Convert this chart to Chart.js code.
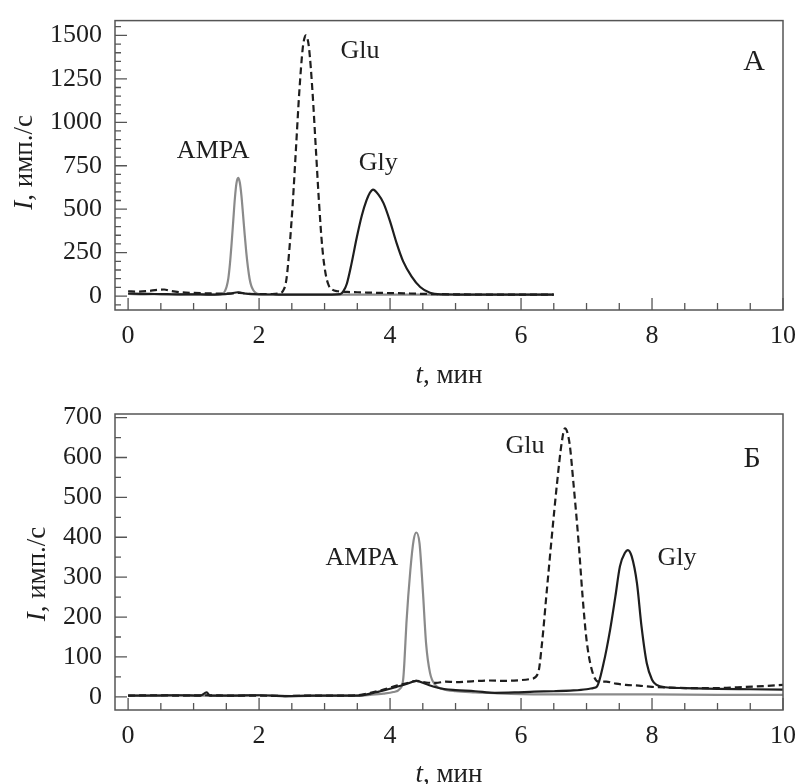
<!DOCTYPE html>
<html>
<head>
<meta charset="utf-8">
<script src="https://cdn.jsdelivr.net/npm/chart.js@4.4.0/dist/chart.umd.min.js"></script>
<style>
  html, body { margin: 0; padding: 0; background: #fff; }
  canvas { display: block; }
</style>
</head>
<body>
<canvas id="chartA" width="799" height="392"></canvas>
<canvas id="chartB" width="799" height="392"></canvas>
<script>
// ---- panel A: time (min) and intensity (counts/s) ----
const aAmpaT = [0, 0.25, 0.5, 0.75, 1.0, 1.25, 1.4, 1.45, 1.48, 1.505, 1.53, 1.555, 1.58, 1.605, 1.63, 1.655, 1.68, 1.705, 1.73, 1.755, 1.78, 1.805, 1.83, 1.855, 1.88, 1.91, 1.95, 2.0, 2.25, 2.5, 2.75, 3.0, 3.5, 4.0, 4.5, 5.0, 5.5, 6.0, 6.5];
const aAmpaI = [12, 10, 11, 9, 10, 9, 10, 14, 30, 55, 100, 185, 300, 430, 560, 650, 680, 655, 580, 470, 355, 250, 165, 100, 60, 35, 18, 11, 9, 8, 9, 8, 8, 9, 8, 8, 8, 9, 8];

const aGluT = [0, 0.15, 0.3, 0.45, 0.55, 0.65, 0.8, 1.0, 1.2, 1.4, 1.6, 1.7, 1.8, 2.0, 2.2, 2.3, 2.365, 2.415, 2.465, 2.515, 2.565, 2.615, 2.665, 2.69, 2.715, 2.74, 2.765, 2.815, 2.865, 2.915, 2.965, 3.015, 3.065, 3.115, 3.2, 3.35, 3.5, 3.7, 3.9, 4.1, 4.3, 4.6, 5.0, 5.5, 6.0, 6.5];
const aGluI = [28, 26, 29, 36, 38, 30, 22, 18, 16, 14, 15, 19, 14, 12, 12, 15, 30, 90, 280, 540, 860, 1180, 1420, 1480, 1500, 1480, 1420, 1180, 860, 540, 280, 130, 60, 38, 28, 24, 22, 20, 18, 17, 15, 12, 10, 9, 9, 8];

const aGlyT = [0, 0.2, 0.4, 0.6, 0.8, 1.0, 1.2, 1.4, 1.55, 1.68, 1.8, 2.0, 2.3, 2.6, 2.9, 3.1, 3.24, 3.29, 3.34, 3.41, 3.49, 3.57, 3.64, 3.69, 3.74, 3.82, 3.90, 4.0, 4.10, 4.20, 4.33, 4.46, 4.61, 4.81, 5.0, 5.5, 6.0, 6.5];
const aGlyI = [15, 13, 12, 11, 10, 10, 9, 10, 14, 22, 14, 10, 9, 8, 8, 9, 11, 30, 71, 184, 334, 465, 550, 593, 613, 585, 535, 430, 305, 200, 112, 52, 19, 10, 9, 8, 9, 9];

// ---- panel Б ----
const bAmpaT = [0, 0.5, 1.0, 1.5, 2.0, 2.5, 3.0, 3.5, 3.7, 3.9, 4.05, 4.15, 4.20, 4.22, 4.25, 4.31, 4.36, 4.40, 4.45, 4.50, 4.55, 4.61, 4.69, 4.8, 5.0, 5.3, 5.6, 6.0, 7.0, 8.0, 9.0, 10.0];
const bAmpaI = [3, 4, 3, 3, 4, 2, 3, 3, 5, 8, 12, 20, 43, 90, 185, 318, 393, 412, 385, 268, 134, 60, 30, 20, 14, 11, 9, 7, 6, 6, 5, 5];

const bGluT = [0, 0.4, 0.8, 1.2, 1.6, 2.0, 2.4, 2.8, 3.2, 3.5, 3.7, 3.9, 4.1, 4.25, 4.4, 4.55, 4.7, 4.85, 5.0, 5.25, 5.5, 5.75, 6.0, 6.15, 6.26, 6.32, 6.39, 6.47, 6.55, 6.62, 6.67, 6.74, 6.80, 6.88, 6.94, 7.00, 7.08, 7.18, 7.3, 7.45, 7.6, 7.8, 8.0, 8.3, 8.6, 9.0, 9.3, 9.6, 10];
const bGluI = [3, 4, 3, 4, 3, 3, 2, 3, 3, 4, 10, 18, 28, 34, 40, 36, 35, 38, 37, 39, 41, 40, 42, 45, 59, 134, 260, 402, 536, 636, 673, 636, 536, 385, 251, 143, 68, 38, 38, 33, 30, 28, 25, 23, 22, 22, 24, 26, 30];

const bGlyT = [0, 0.4, 0.8, 1.1, 1.2, 1.25, 1.6, 2.0, 2.4, 2.8, 3.2, 3.5, 3.7, 3.9, 4.1, 4.25, 4.4, 4.55, 4.7, 4.85, 5.0, 5.3, 5.6, 5.9, 6.2, 6.5, 6.8, 7.0, 7.1, 7.16, 7.26, 7.36, 7.44, 7.51, 7.59, 7.63, 7.69, 7.77, 7.84, 7.92, 8.0, 8.07, 8.2, 8.5, 9.0, 9.5, 10];
const bGlyI = [3, 3, 4, 3, 11, 3, 3, 4, 2, 3, 3, 3, 8, 16, 25, 32, 40, 32, 24, 19, 17, 14, 10, 11, 13, 14, 16, 19, 22, 26, 84, 168, 251, 327, 362, 368, 352, 285, 176, 84, 43, 30, 24, 22, 20, 19, 18];

// ticks
const xTicks = [0, 2, 4, 6, 8, 10];
const yTicksA = [0, 250, 500, 750, 1000, 1250, 1500];
const yTicksB = [0, 100, 200, 300, 400, 500, 600, 700];

const serif = "'Liberation Serif', 'Times New Roman', serif";
const ink = '#1e1e1e';

function pts(t, v) {
  return t.map((x, i) => ({ x: x, y: v[i] }));
}

// frame, inward ticks, axis titles and peak labels
const framePlugin = {
  id: 'frame',
  afterDatasetsDraw(chart, args, o) {
    const { ctx, chartArea: a, scales: { x, y } } = chart;
    ctx.save();
    ctx.strokeStyle = '#555';
    ctx.lineWidth = 1.5;
    ctx.strokeRect(a.left, a.top, a.right - a.left, a.bottom - a.top);

    ctx.beginPath();
    for (let v = 0; v <= x.max + 1e-9; v += 0.5) {
      const px = x.getPixelForValue(v);
      const len = (Math.abs(v % 2) < 1e-9) ? 12 : 7;
      ctx.moveTo(px, a.bottom);
      ctx.lineTo(px, a.bottom - len);
    }
    const first = Math.ceil(y.min / o.yMinor) * o.yMinor;
    for (let v = first; v <= y.max; v += o.yMinor) {
      const py = y.getPixelForValue(v);
      const len = (Math.abs(v % o.yMajor) < 1e-9) ? 12 : 6;
      ctx.moveTo(a.left, py);
      ctx.lineTo(a.left + len, py);
    }
    ctx.lineWidth = 1.3;
    ctx.stroke();

    ctx.fillStyle = ink;
    // x title
    drawMixed(ctx, [['t', 'italic '], [', мин', '']], (a.left + a.right) / 2, o.xTitleY, 27);
    // y title (rotated)
    ctx.save();
    ctx.translate(o.yTitleX, (a.top + a.bottom) / 2 + o.yTitleShift);
    ctx.rotate(-Math.PI / 2);
    drawMixed(ctx, [['I', 'italic '], [', имп./с', '']], 0, 0, 27);
    ctx.restore();

    // peak labels, placed in data coordinates
    ctx.textAlign = 'center';
    ctx.textBaseline = 'alphabetic';
    o.labels.forEach(l => {
      ctx.font = (l.size || 26) + 'px ' + serif;
      ctx.fillText(l.text, x.getPixelForValue(l.x), y.getPixelForValue(l.y));
    });
    ctx.restore();
  }
};

function drawMixed(ctx, parts, cx, baseY, size) {
  ctx.textBaseline = 'alphabetic';
  ctx.textAlign = 'left';
  let w = 0;
  parts.forEach(p => { ctx.font = p[1] + size + 'px ' + serif; w += ctx.measureText(p[0]).width; });
  let x0 = cx - w / 2;
  parts.forEach(p => {
    ctx.font = p[1] + size + 'px ' + serif;
    ctx.fillText(p[0], x0, baseY);
    x0 += ctx.measureText(p[0]).width;
  });
}

function makeChart(id, cfg) {
  return new Chart(document.getElementById(id), {
    type: 'line',
    data: {
      datasets: [
        { data: cfg.gly, borderColor: '#1e1e1e', borderWidth: 2.2 },
        { data: cfg.glu, borderColor: '#1e1e1e', borderWidth: 2.2, borderDash: [7, 4] },
        { data: cfg.ampa, borderColor: '#8a8a8a', borderWidth: 2.2 }
      ]
    },
    options: {
      responsive: false,
      animation: false,
      elements: {
        point: { radius: 0 },
        line: { cubicInterpolationMode: 'monotone', fill: false }
      },
      layout: { padding: { top: cfg.padTop, right: 16, left: 0, bottom: 0 } },
      plugins: {
        legend: { display: false },
        tooltip: { enabled: false },
        frame: cfg.frame
      },
      scales: {
        x: {
          type: 'linear',
          min: -0.2,
          max: 10,
          afterBuildTicks: s => { s.ticks = xTicks.map(v => ({ value: v })); },
          afterFit: s => { s.height = cfg.xAxisH; },
          grid: { display: false },
          border: { display: false },
          ticks: { autoSkip: false, maxRotation: 0, padding: 3, color: ink, font: { family: serif, size: 26 }, callback: v => String(v) }
        },
        y: {
          type: 'linear',
          min: cfg.yMin,
          max: cfg.yMax,
          afterBuildTicks: s => { s.ticks = cfg.yTicks.map(v => ({ value: v })); },
          afterFit: s => { s.width = 115; },
          grid: { display: false },
          border: { display: false },
          ticks: { autoSkip: false, padding: 5, color: ink, font: { family: serif, size: 26 }, callback: v => String(v) }
        }
      }
    },
    plugins: [framePlugin]
  });
}

makeChart('chartA', {
  ampa: pts(aAmpaT, aAmpaI),
  glu: pts(aGluT, aGluI),
  gly: pts(aGlyT, aGlyI),
  yMin: -80, yMax: 1585, yTicks: yTicksA,
  padTop: 14, xAxisH: 82,
  frame: {
    yMinor: 50, yMajor: 250,
    xTitleY: 383, yTitleX: 32, yTitleShift: -3,
    labels: [
      { text: 'AMPA', x: 1.30, y: 793 },
      { text: 'Glu', x: 3.54, y: 1367 },
      { text: 'Gly', x: 3.82, y: 726 },
      { text: 'А', x: 9.56, y: 1299, size: 30 }
    ]
  }
});

makeChart('chartB', {
  ampa: pts(bAmpaT, bAmpaI),
  glu: pts(bGluT, bGluI),
  gly: pts(bGlyT, bGlyI),
  yMin: -33, yMax: 709, yTicks: yTicksB,
  padTop: 22, xAxisH: 74,
  frame: {
    yMinor: 50, yMajor: 100,
    xTitleY: 390, yTitleX: 45, yTitleShift: 12,
    labels: [
      { text: 'AMPA', x: 3.57, y: 331 },
      { text: 'Glu', x: 6.06, y: 612 },
      { text: 'Gly', x: 8.38, y: 331 },
      { text: 'Б', x: 9.53, y: 576, size: 30 }
    ]
  }
});
</script>
</body>
</html>
